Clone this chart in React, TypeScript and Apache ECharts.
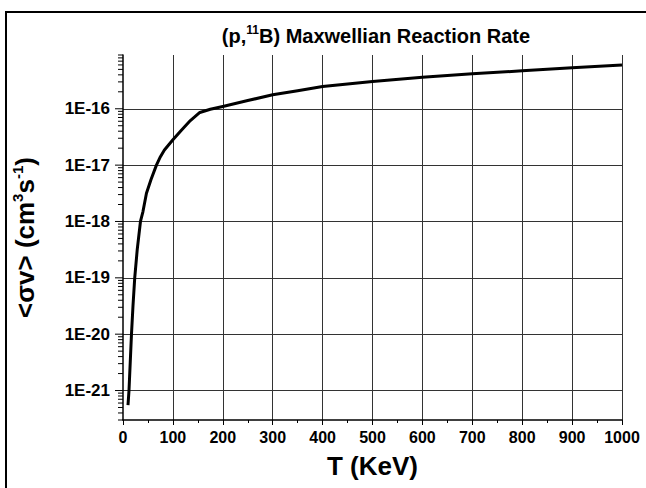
import React, { useEffect, useRef } from "react";
import * as echarts from "echarts";

// Temperature (keV) and Maxwellian-averaged reaction rate <σv> (cm^3 s^-1)
const temperatures = [10, 12, 14.5, 17, 20, 23.5, 28.5, 35, 40, 47, 56, 67, 75, 83, 100, 117, 135, 154, 175, 200, 250, 300, 350, 400, 500, 600, 700, 800, 900, 1000];
const rates = [5.5e-22, 1e-21, 3.16e-21, 1e-20, 3.16e-20, 1e-19, 3.16e-19, 1e-18, 1.5e-18, 3.16e-18, 5.5e-18, 1e-17, 1.41e-17, 1.86e-17, 2.82e-17, 4.17e-17, 6.17e-17, 8.6e-17, 9.8e-17, 1.1e-16, 1.4e-16, 1.77e-16, 2.09e-16, 2.48e-16, 3.05e-16, 3.63e-16, 4.17e-16, 4.72e-16, 5.33e-16, 5.96e-16];

const xTicks = [0, 100, 200, 300, 400, 500, 600, 700, 800, 900, 1000];
const yDecades = [-21, -20, -19, -18, -17, -16];
const yMin = 3e-22;
const yMax = 9e-16;

export default function App() {
  const ref = useRef<HTMLDivElement>(null);
  useEffect(() => {
    if (!ref.current) return;
    const chart = echarts.init(ref.current, undefined, { renderer: "svg" });
    const font = "'Liberation Sans', Arial, sans-serif";

    const tickData: number[][] = [];
    for (const d of yDecades) tickData.push([0, Math.pow(10, d), 8]);
    for (let n = -22; n <= -16; n++) {
      for (let m = 2; m <= 9; m++) {
        const v = m * Math.pow(10, n);
        if (v >= yMin && v <= yMax) tickData.push([0, v, 5]);
      }
    }

    chart.setOption({
      animation: false,
      backgroundColor: "#fff",
      title: {
        text: "(p,{sup|11}B) Maxwellian Reaction Rate",
        left: 371,
        top: 19,
        textAlign: "center",
        textStyle: {
          fontFamily: font,
          fontWeight: "bold",
          fontSize: 20,
          color: "#000",
          lineHeight: 23,
          rich: {
            sup: { fontFamily: font, fontWeight: "bold", fontSize: 12, verticalAlign: "top", lineHeight: 23, padding: [0, 0, 8, 0] },
          },
        },
      },
      grid: { left: 123, right: 24, top: 55, bottom: 68 },
      xAxis: {
        type: "value",
        min: 0,
        max: 1000,
        interval: 100,
        name: "T (KeV)",
        nameLocation: "middle",
        nameGap: 46,
        nameTextStyle: { fontFamily: font, fontWeight: "bold", fontSize: 26, color: "#000", verticalAlign: "middle" },
        axisLine: { show: true, onZero: false, lineStyle: { color: "#000", width: 1.5 } },
        axisTick: { show: true, inside: false, length: 5, lineStyle: { color: "#000", width: 1 } },
        minorTick: { show: true, splitNumber: 2, length: 3, lineStyle: { color: "#000", width: 1 } },
        axisLabel: {
          margin: 9,
          fontFamily: font,
          fontWeight: "bold",
          fontSize: 16,
          color: "#000",
          formatter: (v: number) => (xTicks.includes(v) ? String(v) : ""),
        },
        splitLine: { show: true, showMinLine: false, lineStyle: { color: "#333", width: 1 } },
      },
      yAxis: {
        type: "log",
        logBase: 10,
        min: yMin,
        max: yMax,
        name: "<σv> (cm{sup|3}s{sup|-1})",
        nameLocation: "middle",
        nameGap: 98,
        nameRotate: 90,
        nameTextStyle: {
          fontFamily: font,
          fontWeight: "bold",
          fontSize: 26,
          color: "#000",
          verticalAlign: "middle",
          lineHeight: 30,
          rich: {
            sup: { fontFamily: font, fontWeight: "bold", fontSize: 15, verticalAlign: "top", lineHeight: 30, padding: [0, 0, 10, 0] },
          },
        },
        axisLine: { show: true, onZero: false, lineStyle: { color: "#000", width: 1.5 } },
        axisTick: { show: false },
        axisLabel: {
          margin: 13,
          fontFamily: font,
          fontWeight: "bold",
          fontSize: 17,
          color: "#000",
          showMinLabel: false,
          showMaxLabel: false,
          formatter: (val: number) => {
            const e = Math.log10(val);
            const r = Math.round(e);
            return Math.abs(e - r) < 1e-6 && yDecades.includes(r) ? "1E" + r : "";
          },
        },
        splitLine: { show: true, showMinLine: false, showMaxLine: false, lineStyle: { color: "#333", width: 1 } },
      },
      graphic: [
        {
          type: "rect",
          shape: { x: 6, y: 12, width: 800, height: 700 },
          style: { fill: "none", stroke: "#000", lineWidth: 2 },
          silent: true,
          z: 100,
        },
      ],
      series: [
        {
          type: "custom",
          silent: true,
          clip: false,
          data: tickData,
          renderItem: (params: any, api: any) => {
            const p = api.coord([api.value(0), api.value(1)]);
            const len = api.value(2);
            return {
              type: "line",
              shape: { x1: p[0] - len, y1: p[1], x2: p[0], y2: p[1] },
              style: { stroke: "#000", lineWidth: 1 },
            };
          },
          z: 5,
        },
        {
          type: "line",
          data: temperatures.map((t, i) => [t, rates[i]]),
          showSymbol: false,
          smooth: false,
          lineStyle: { color: "#000", width: 3, join: "round" },
          z: 10,
        },
      ],
    });
    return () => chart.dispose();
  }, []);
  return <div ref={ref} style={{ position: "fixed", left: 0, top: 0, width: 646, height: 488 }} />;
}
